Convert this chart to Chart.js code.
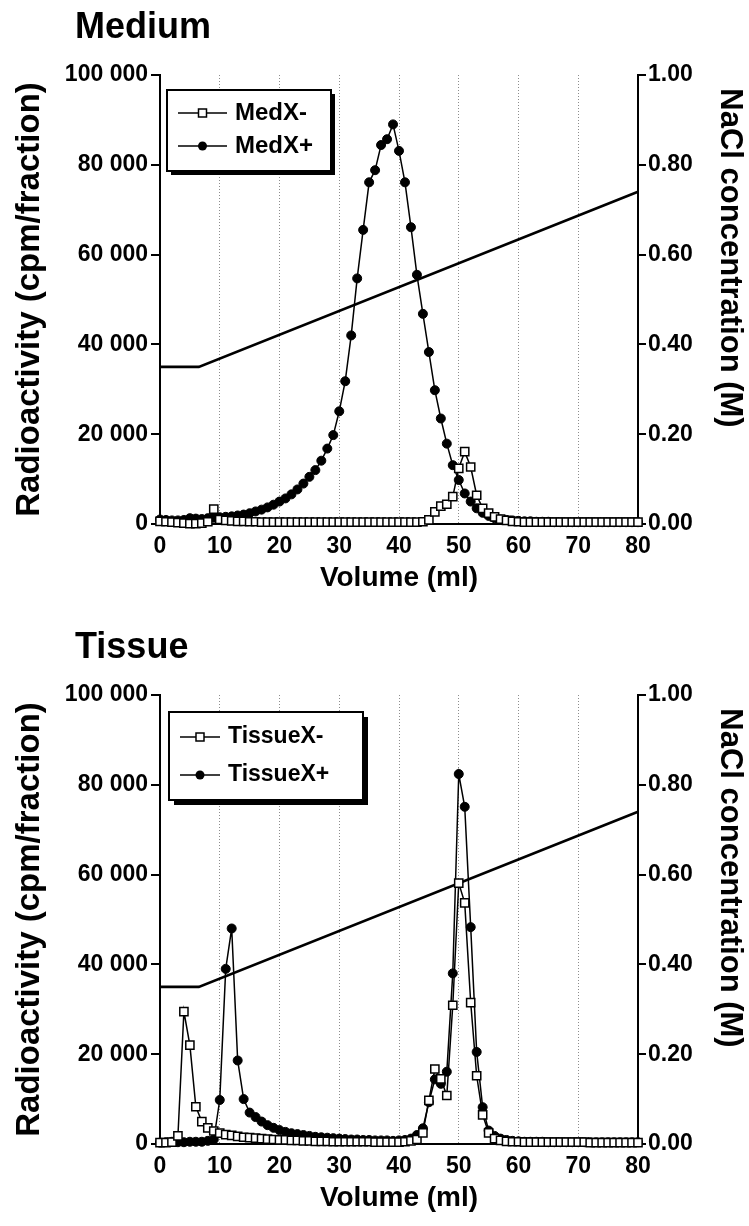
<!DOCTYPE html>
<html><head><meta charset="utf-8">
<script src="https://cdn.jsdelivr.net/npm/chart.js@4.4.0/dist/chart.umd.min.js"></script>
<style>
html,body{margin:0;padding:0;background:#fff;overflow:hidden;width:749px;height:1226px;position:relative;}
canvas{position:absolute;left:0;}
#c1{top:0}
#c2{top:620px}
</style></head><body>
<canvas id="c1" width="749" height="620"></canvas>
<canvas id="c2" width="749" height="620"></canvas>
<script>
// ---------- data ----------
const volume = [0,1,2,3,4,5,6,7,8,9,10,11,12,13,14,15,16,17,18,19,20,21,22,23,24,25,26,27,28,29,30,31,32,33,34,35,36,37,38,39,40,41,42,43,44,45,46,47,48,49,50,51,52,53,54,55,56,57,58,59,60,61,62,63,64,65,66,67,68,69,70,71,72,73,74,75,76,77,78,79,80];

const medXMinus = [600,500,400,300,200,100,100,200,500,3300,1000,800,700,600,600,500,500,400,400,400,400,400,400,400,400,400,400,400,400,400,400,400,400,400,400,400,400,400,400,400,400,400,400,400,500,900,2700,4000,4400,6100,12400,16100,12700,6400,3500,2400,1600,1100,800,600,500,400,400,400,400,400,400,400,400,400,400,400,400,400,400,400,400,400,400,400,400];
const medXPlus = [1000,900,800,800,900,1300,1200,1100,1300,1400,1500,1600,1700,1900,2100,2400,2800,3200,3700,4300,5000,5700,6600,7700,9000,10500,12000,14100,16800,19800,25100,31800,42000,54700,65500,76100,78800,84400,85700,89000,83100,76100,66100,55500,46800,38300,29800,23500,17900,13100,9800,6800,5000,3500,2500,1800,1300,1000,900,800,700,600,600,500,500,500,400,400,400,400,400,400,400,400,400,400,400,400,400,400,400];

const tissueXMinus = [300,300,400,1800,29500,22000,8300,5000,3600,2900,2400,2100,1900,1700,1500,1400,1300,1200,1100,1000,900,900,800,800,700,700,600,600,600,500,500,500,500,500,500,500,400,400,400,400,400,500,700,1000,2500,9700,16700,14500,10800,30900,58100,53700,31500,15200,6500,2500,1200,800,600,500,500,400,400,400,400,400,400,400,400,400,400,400,300,300,300,300,300,300,300,300,300];
const tissueXPlus = [300,400,500,400,400,500,500,500,700,1000,9800,39000,48000,18600,10000,7000,6000,5000,4200,3600,3100,2700,2400,2200,2000,1800,1600,1500,1400,1300,1200,1100,1000,1000,900,900,800,800,800,700,800,900,1200,2000,3500,9300,14400,13400,16100,38000,82400,75100,48300,20500,8200,3000,1800,1200,900,700,600,500,500,500,500,400,400,400,400,400,400,400,400,400,400,400,400,400,400,400,400];

const naclVolume = [0, 6.5, 80];
const naclConc   = [0.35, 0.35, 0.74];

const volumeTicks = ['0','10','20','30','40','50','60','70','80'];
const radioTicks  = ['0','20 000','40 000','60 000','80 000','100 000'];
const naclTicks   = ['0.00','0.20','0.40','0.60','0.80','1.00'];

// ---------- drawing ----------
const FONT = "'Liberation Sans', Arial, Helvetica, sans-serif";

const decorPlugin = {
  id: 'decor',
  afterDraw(chart, args, o) {
    const ctx = chart.ctx;
    ctx.save();
    // panel title
    ctx.fillStyle = '#000';
    ctx.font = 'bold 36px ' + FONT;
    ctx.textBaseline = 'middle';
    ctx.textAlign = 'left';
    ctx.fillText(o.title, 75, 28);
    // right axis title (rotated, reading downwards)
    ctx.save();
    ctx.translate(730, 258);
    ctx.rotate(Math.PI / 2);
    ctx.font = 'bold 31px ' + FONT;
    ctx.textAlign = 'center';
    ctx.textBaseline = 'middle';
    ctx.fillText(o.rightTitle, 0, 0);
    ctx.restore();
    // legend box with shadow
    const b = o.box;
    ctx.fillStyle = '#000';
    ctx.fillRect(b.x + b.shadow, b.y + b.shadow, b.w, b.h);
    ctx.fillStyle = '#fff';
    ctx.fillRect(b.x, b.y, b.w, b.h);
    ctx.lineWidth = 2;
    ctx.strokeStyle = '#000';
    ctx.strokeRect(b.x, b.y, b.w, b.h);
    const ds = chart.data.datasets;
    for (let i = 0; i < 2; i++) {
      const yy = b.rows[i];
      ctx.beginPath();
      ctx.moveTo(b.lx1, yy); ctx.lineTo(b.lx2, yy);
      ctx.lineWidth = 1.5; ctx.strokeStyle = '#000'; ctx.stroke();
      const cx = (b.lx1 + b.lx2) / 2;
      ctx.beginPath();
      if (ds[i].pointStyle === 'rect') {
        ctx.fillStyle = '#fff';
        ctx.rect(cx - 4, yy - 4, 8, 8);
        ctx.fill(); ctx.lineWidth = 1.5; ctx.stroke();
      } else {
        ctx.fillStyle = '#000';
        ctx.arc(cx, yy, 4.5, 0, Math.PI * 2);
        ctx.fill();
      }
      ctx.fillStyle = '#000';
      ctx.font = 'bold ' + b.fontSize + 'px ' + FONT;
      ctx.textBaseline = 'middle';
      ctx.textAlign = 'left';
      ctx.fillText(ds[i].label, b.tx, yy);
    }
    ctx.restore();
  }
};

function pts(xs, ys) { return xs.map((x, i) => ({x: x, y: ys[i]})); }

function makeChart(id, title, labels, minus, plus, box) {
  return new Chart(document.getElementById(id), {
    type: 'scatter',
    data: {
      datasets: [
        { label: labels[0], data: pts(volume, minus), showLine: true, borderColor: '#000', borderWidth: 1.5,
          pointStyle: 'rect', pointRadius: 5.8, pointBackgroundColor: '#fff', pointBorderColor: '#000', pointBorderWidth: 1.5, clip: false },
        { label: labels[1], data: pts(volume, plus), showLine: true, borderColor: '#000', borderWidth: 1.5,
          pointStyle: 'circle', pointRadius: 4.5, pointBackgroundColor: '#000', pointBorderColor: '#000', pointBorderWidth: 1, clip: false },
        { label: 'NaCl', data: pts(naclVolume, naclConc), yAxisID: 'y1', showLine: true, borderColor: '#000', borderWidth: 2.6,
          pointRadius: 0, clip: false }
      ]
    },
    options: {
      responsive: false, animation: false, events: [],
      layout: { padding: { top: 75, left: 0, right: 0, bottom: 0 } },
      plugins: { legend: { display: false }, tooltip: { enabled: false }, title: { display: false },
        decor: { title: title, rightTitle: 'NaCl concentration (M)', box: box } },
      scales: {
        x: {
          type: 'linear', position: 'bottom', min: 0, max: 80,
          ticks: { stepSize: 10, autoSkip: false, maxRotation: 0, color: '#000', padding: 9,
            font: { family: FONT, size: 23, weight: 'bold' },
            callback: (v, i) => volumeTicks[i] },
          grid: { drawTicks: false, lineWidth: 1,
            color: c => (c.tick && (c.tick.value === 0 || c.tick.value === 80)) ? 'rgba(0,0,0,0)' : '#8c8c8c' },
          border: { display: true, color: '#000', width: 2, dash: [1, 2] },
          title: { display: true, text: 'Volume (ml)', color: '#000',
            font: { family: FONT, size: 28, weight: 'bold' }, padding: { top: 0, bottom: 25 } },
          afterFit: s => { s.height = 96; }
        },
        y: {
          position: 'left', min: 0, max: 100000,
          ticks: { stepSize: 20000, color: '#000', padding: 3,
            font: { family: FONT, size: 23, weight: 'bold' },
            callback: (v, i) => radioTicks[i] },
          grid: { drawOnChartArea: false, drawTicks: true, tickLength: 9, color: '#000', lineWidth: 2 },
          border: { display: true, color: '#000', width: 2 },
          title: { display: true, text: 'Radioactivity (cpm/fraction)', color: '#000',
            font: { family: FONT, size: 33, weight: 'bold' }, padding: { top: 10, bottom: 0 } },
          afterFit: s => { s.width = 160; }
        },
        y1: {
          position: 'right', min: 0, max: 1,
          ticks: { stepSize: 0.2, color: '#000', padding: 2,
            font: { family: FONT, size: 23, weight: 'bold' },
            callback: (v, i) => naclTicks[i] },
          grid: { drawOnChartArea: false, drawTicks: true, tickLength: 8, color: '#000', lineWidth: 2 },
          border: { display: true, color: '#000', width: 2 },
          title: { display: false },
          afterFit: s => { s.width = 111; }
        }
      }
    },
    plugins: [decorPlugin]
  });
}

makeChart('c1', 'Medium', ['MedX-', 'MedX+'], medXMinus, medXPlus,
  { x: 167, y: 90, w: 164, h: 81, shadow: 4, rows: [113, 146], lx1: 178, lx2: 227, tx: 235, fontSize: 24 });
makeChart('c2', 'Tissue', ['TissueX-', 'TissueX+'], tissueXMinus, tissueXPlus,
  { x: 169, y: 92, w: 194, h: 88, shadow: 5, rows: [117, 155], lx1: 180, lx2: 220, tx: 228, fontSize: 23 });
</script>
</body></html>
